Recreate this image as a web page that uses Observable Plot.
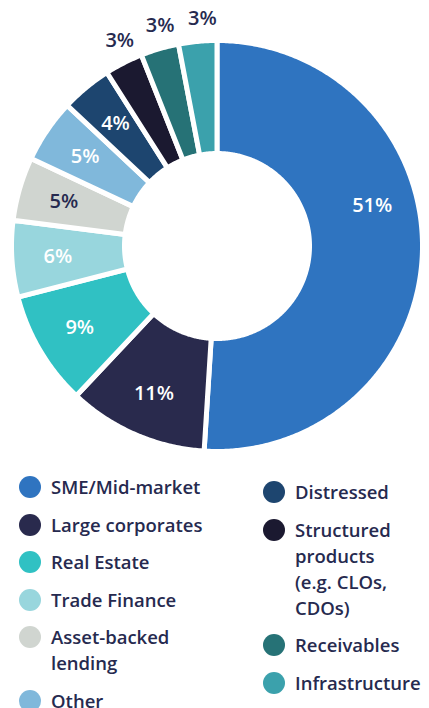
<!DOCTYPE html>
<html><head><meta charset="utf-8">
<script src="https://cdn.jsdelivr.net/npm/d3@7"></script>
<script src="https://cdn.jsdelivr.net/npm/@observablehq/plot@0.6"></script>
<style>
body{margin:0;background:#fff;font-family:"Open Sans",sans-serif;}
#wrap{position:relative;width:429px;height:708px;overflow:hidden;background:#fff}
#chart{position:absolute;left:0;top:0}
.col{position:absolute;display:flex;flex-direction:column}
.item{display:flex;align-items:flex-start;margin-bottom:11.5px}
.dot{width:22px;height:22px;border-radius:50%;margin-top:2px;flex:none}
.txt{margin-left:10px;font-size:18.5px;font-weight:600;line-height:26px;color:#262a4f;white-space:normal}
</style></head><body>
<div id="wrap"><div id="chart"></div><div id="legend"></div></div>
<script>
// Data
const categories = ["SME/Mid-market","Large corporates","Real Estate","Trade Finance","Asset-backed lending","Other","Distressed","Structured products (e.g. CLOs, CDOs)","Receivables","Infrastructure"];
const shares = [51, 11, 9, 6, 5, 5, 4, 3, 3, 3];
const shareLabels = ["51%","11%","9%","6%","5%","5%","4%","3%","3%","3%"];
const legendLeft = ["SME/Mid-market","Large corporates","Real Estate","Trade Finance","Asset-backed lending","Other"];
const legendRight = ["Distressed","Structured products (e.g. CLOs, CDOs)","Receivables","Infrastructure"];

// Style
const colors = ["#2f74c0","#292a4d","#30c1c3","#98d6dd","#d0d5d0","#80b8db","#1d456f","#1b1930","#267276","#3ba1ac"];
const darkText = "#262a4f";
const W = 429, H = 460, CX = 217, CY = 246;
const R_OUT = 205.5, R_IN = 92.5;

const table = categories.map((name, i) => ({name, value: shares[i], label: shareLabels[i]}));
const arcs = d3.pie().sort(null).value(d => d.value)(table);

const areaData = [];
for (const a of arcs) {
  const n = Math.max(2, Math.ceil((a.endAngle - a.startAngle) / (Math.PI / 360)));
  for (let k = 0; k <= n; k++) {
    const t = a.startAngle + (a.endAngle - a.startAngle) * k / n;
    areaData.push({name: a.data.name,
      x1: R_OUT * Math.sin(t), y1: R_OUT * Math.cos(t),
      x2: R_IN * Math.sin(t), y2: R_IN * Math.cos(t)});
  }
}

const labelData = arcs.map(a => {
  const outside = a.data.value <= 3;
  const f = a.data.value > 50 ? 0.41 : (outside ? 0.65 : 0.5);
  const t = a.startAngle + (a.endAngle - a.startAngle) * f;
  const r = outside ? 228 : 160;
  return {text: a.data.label, x: r * Math.sin(t), y: r * Math.cos(t),
    dark: outside || a.data.name === "Asset-backed lending"};
});

const plot = Plot.plot({
  width: W, height: H, margin: 0,
  style: {background: "white", fontFamily: "Open Sans"},
  x: {domain: [-CX, W - CX], range: [0, W], axis: null},
  y: {domain: [CY - H, CY], range: [H, 0], axis: null},
  color: {domain: categories, range: colors},
  marks: [
    Plot.area(areaData, {x1: "x1", y1: "y1", x2: "x2", y2: "y2", z: "name", fill: "name", stroke: "white", strokeWidth: 5}),
    Plot.text(labelData.filter(d => !d.dark), {x: "x", y: "y", text: "text", fill: "white", fontSize: 20, fontWeight: 600, fontFamily: "Open Sans"}),
    Plot.text(labelData.filter(d => d.dark), {x: "x", y: "y", text: "text", fill: darkText, fontSize: 20, fontWeight: 600, fontFamily: "Open Sans"})
  ]
});
document.getElementById("chart").appendChild(plot);

function makeCol(items, left, top, textWidth) {
  const col = document.createElement("div");
  col.className = "col";
  col.style.left = left + "px";
  col.style.top = top + "px";
  for (const name of items) {
    const it = document.createElement("div"); it.className = "item";
    const dot = document.createElement("div"); dot.className = "dot";
    dot.style.background = colors[categories.indexOf(name)];
    const tx = document.createElement("div"); tx.className = "txt";
    tx.style.width = textWidth + "px";
    tx.textContent = name;
    it.appendChild(dot); it.appendChild(tx); col.appendChild(it);
  }
  document.getElementById("legend").appendChild(col);
}
makeCol(legendLeft, 19, 474, 165);
makeCol(legendRight, 263, 479, 115);
</script>
</body></html>
